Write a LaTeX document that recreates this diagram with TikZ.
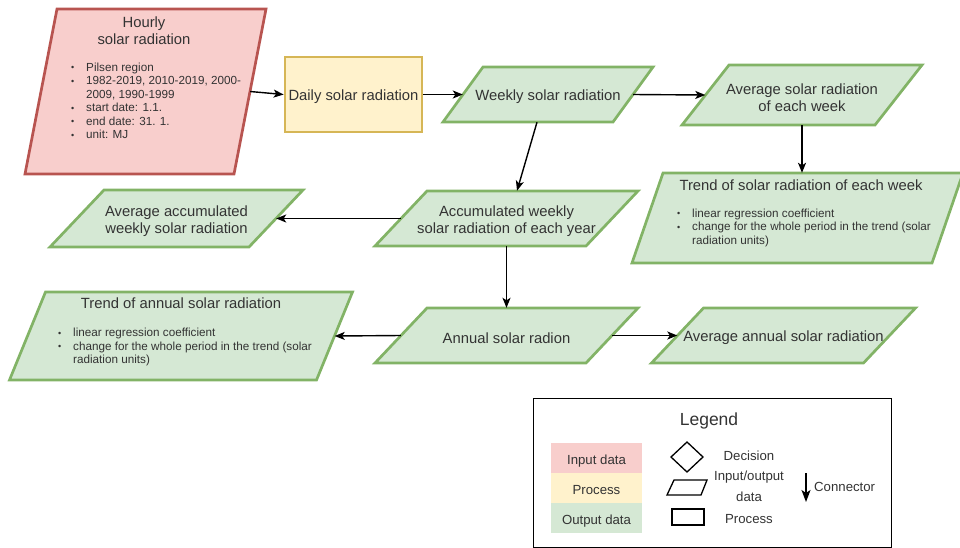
\documentclass[tikz,border=0pt]{standalone}
\usepackage{fontspec}
\setmainfont{Liberation Sans}
\usetikzlibrary{arrows.meta,calc}

\definecolor{redfill}{HTML}{F8CECC}
\definecolor{redline}{HTML}{B85450}
\definecolor{yelfill}{HTML}{FFF2CC}
\definecolor{yelline}{HTML}{D6B656}
\definecolor{grnfill}{HTML}{D5E8D4}
\definecolor{grnline}{HTML}{82B366}
\definecolor{txt}{HTML}{333333}

% font sizes (1pt = one unit of the picture)
\newcommand\mainfs{\fontsize{14.8}{17.5}\selectfont}
\newcommand\smallfs{\fontsize{11.7}{13.5}\selectfont}
\newcommand\legfs{\fontsize{13.2}{21}\selectfont}
% bullet list helpers
\newcommand\bul{\makebox[15pt][l]{\raisebox{0.6pt}{\fontsize{9}{9}\selectfont\textbullet}}}
\newcommand\bind{\hspace*{15pt}}

% slanted data box: name, centre x, centre y, edge length, height, slant, style, text
\newcommand\iobox[8]{%
  \filldraw[#7] ({#2-#4/2+#6/2},{#3-#5/2}) -- ({#2+#4/2+#6/2},{#3-#5/2})
    -- ({#2+#4/2-#6/2},{#3+#5/2}) -- ({#2-#4/2-#6/2},{#3+#5/2}) -- cycle;
  \node[inner sep=0pt, minimum width=#4, minimum height=#5] (#1) at (#2,#3) {};
  \node[shapetext, yshift=-2.5pt] (#1-text) at (#1.center) {#8};
}

\begin{document}
\begin{tikzpicture}[x=1pt,y=-1pt,
  shapetext/.style={inner sep=0pt, align=center, font=\mainfs, text=txt},
  listtext/.style={inner sep=0pt, align=left, font=\smallfs, text=txt, anchor=north west},
  redshape/.style={fill=redfill, draw=redline, line width=2.7pt},
  grnshape/.style={fill=grnfill, draw=grnline, line width=2.7pt},
  procbox/.style={fill=yelfill, draw=yelline, line width=2.7pt, inner sep=0pt},
  arr/.style={-{Stealth[length=10pt,width=8pt,inset=2.5pt]}, line width=1.4pt, draw=black},
  swatch/.style={inner sep=0pt, minimum width=91, minimum height=30, font=\legfs, text=txt,
                 text height=12.4pt, text depth=0pt},
  legtext/.style={inner sep=0pt, font=\legfs, text=txt},
  symbol/.style={draw=black, line width=1.3pt}]
\useasboundingbox (0,0) rectangle (960,547);

% input data
\iobox{hourly}{145.5}{91.5}{209}{165}{32}{redshape}{}
\node[shapetext] (hourly-title) at (144,30.5) {Hourly\\solar radiation};
\node[listtext] (hourly-list) at (71,62.7)
  {\bul Pilsen region\\ \bul 1982-2019, 2010-2019, 2000-\\ \bind 2009, 1990-1999\\
   \bul start date: 1.1.\\ \bul end date: 31. 1.\\ \bul unit: MJ};

% process
\node[procbox, minimum width=137, minimum height=75] (daily) at (353.5,94.5) {};
\node[shapetext, yshift=-2.5pt] (daily-text) at (daily.center) {Daily solar radiation};

% weekly branch
\iobox{weekly}{548}{94.5}{170}{55}{40}{grnshape}{Weekly solar radiation}
\iobox{avgweek}{802}{95}{193}{60}{47}{grnshape}{Average solar radiation\\of each week}
\iobox{trendweek}{797.5}{218}{300}{90}{31}{grnshape}{}
\node[shapetext] (trendweek-title) at (801,185.5) {Trend of solar radiation of each week};
\node[listtext] (trendweek-list) at (677,208.5)
  {\bul linear regression coefficient\\ \bul change for the whole period in the trend (solar\\ \bind radiation units)};

% accumulated branch
\iobox{accum}{506.5}{218.5}{211}{55}{52}{grnshape}{Accumulated weekly\\solar radiation of each year}
\iobox{avgaccum}{176.5}{218.5}{199}{57}{54}{grnshape}{Average accumulated\\weekly solar radiation}

% annual branch
\iobox{annual}{506.5}{335.5}{211}{55}{52}{grnshape}{Annual solar radion}
\iobox{avgannual}{783.5}{335.5}{212}{55}{52}{grnshape}{Average annual solar radiation}
\iobox{trendannual}{181}{336}{307}{88}{36}{grnshape}{}
\node[shapetext] (trendannual-title) at (181,303.5) {Trend of annual solar radiation};
\node[listtext] (trendannual-list) at (58,328)
  {\bul linear regression coefficient\\ \bul change for the whole period in the trend (solar\\ \bind radiation units)};

% connectors
\draw[arr] (hourly.east) -- (daily.west);
\draw[arr] (daily.east) -- (weekly.west);
\draw[arr] (weekly.east) -- (avgweek.west);
\draw[arr] (avgweek.south) -- (avgweek.south |- trendweek.north);
\draw[arr] ($(weekly.south)+(-11,0)$) -- ($(accum.north)+(10.5,0)$);
\draw[arr] (accum.west) -- (avgaccum.east);
\draw[arr] (accum.south) -- (annual.north);
\draw[arr] (annual.west) -- (trendannual.east);
\draw[arr] (annual.east) -- (avgannual.west);

% legend
\node[draw=black, line width=1.3pt, minimum width=358, minimum height=148.5,
      anchor=north west, inner sep=0pt] (legend) at (533,398) {};
\node[inner sep=0pt, font=\fontsize{17.5}{20}\selectfont, text=txt] (legend-title) at (709,421) {Legend};
\node[swatch, fill=redfill] (key-input) at (596.5,458) {Input data};
\node[swatch, fill=yelfill] (key-proc) at (596.5,488) {Process};
\node[swatch, fill=grnfill] (key-output) at (596.5,518) {Output data};
\draw[symbol] (687,442) -- (703,457) -- (687,472) -- (671,457) -- cycle;
\draw[symbol] (674,480) -- (707,480) -- (701,495) -- (667,495) -- cycle;
\draw[symbol] (672,509) rectangle (704,525);
\node[legtext] (key-decision) at (749,456) {Decision};
\node[legtext, align=center] (key-io) at (749,486.5) {Input/output\\data};
\node[legtext] (key-process) at (749,519) {Process};
\coordinate (conn-top) at (806,473);
\coordinate (conn-bot) at (806,502);
\draw[arr, -{Stealth[length=12pt,width=9pt,inset=3pt]}] (conn-top) -- (conn-bot);
\node[legtext, anchor=west] (key-conn) at (814,487) {Connector};
\end{tikzpicture}
\end{document}
